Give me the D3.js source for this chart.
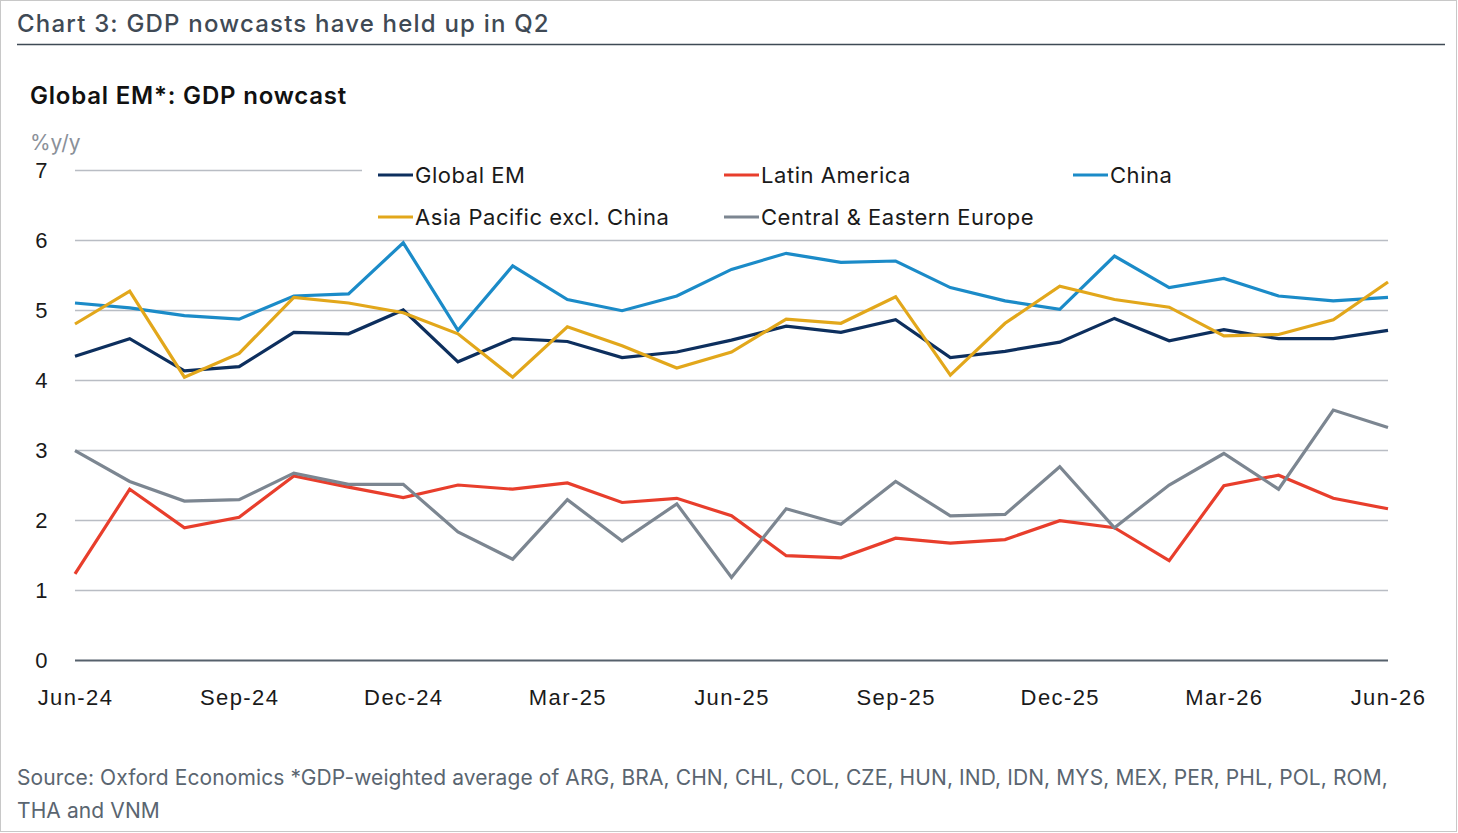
<!DOCTYPE html>
<html lang="en">
<head>
    <meta charset="UTF-8">
    <script src="https://cdnjs.cloudflare.com/ajax/libs/d3/7.8.5/d3.min.js"></script>
    <title>Chart 3: GDP nowcasts have held up in Q2</title>
    <style>
        html, body {
            margin: 0;
            padding: 0;
            background: #ffffff;
        }

        svg {
            display: block;
            font-family: "Inter", "Noto Sans", sans-serif;
        }

        .chart-title {
            fill: #3f4a55;
            font-size: 24px;
            font-weight: 500;
            letter-spacing: 1.2px;
        }

        .chart-subtitle {
            fill: #111111;
            font-size: 24px;
            font-weight: 600;
            letter-spacing: 0.8px;
        }

        .unit-label {
            fill: #8a9099;
            font-size: 21px;
        }

        .text-axis {
            fill: #1a1a1a;
            font-size: 22px;
            letter-spacing: 1.4px;
        }

        .legend-label {
            fill: #1a1a1a;
            font-size: 22px;
            letter-spacing: 0.55px;
        }

        .source {
            fill: #5a6570;
            font-size: 21px;
            letter-spacing: 0.1px;
        }
    </style>
</head>
<body>
    <script>
        const months = [
            'Jun-24', 'Jul-24', 'Aug-24', 'Sep-24', 'Oct-24', 'Nov-24', 'Dec-24',
            'Jan-25', 'Feb-25', 'Mar-25', 'Apr-25', 'May-25', 'Jun-25', 'Jul-25',
            'Aug-25', 'Sep-25', 'Oct-25', 'Nov-25', 'Dec-25', 'Jan-26', 'Feb-26',
            'Mar-26', 'Apr-26', 'May-26', 'Jun-26'
        ];
        const tickLabels = ['Jun-24', 'Sep-24', 'Dec-24', 'Mar-25', 'Jun-25', 'Sep-25', 'Dec-25', 'Mar-26', 'Jun-26'];
        const yTicks = [0, 1, 2, 3, 4, 5, 6, 7];

        const globalEM = [4.34, 4.59, 4.13, 4.19, 4.68, 4.66, 5.00, 4.26, 4.59, 4.55, 4.32, 4.40, 4.57, 4.77, 4.68, 4.86, 4.32, 4.41, 4.54, 4.88, 4.56, 4.72, 4.59, 4.59, 4.71];
        const latinAmerica = [1.23, 2.44, 1.89, 2.04, 2.63, 2.47, 2.32, 2.50, 2.44, 2.53, 2.25, 2.31, 2.06, 1.49, 1.46, 1.74, 1.67, 1.72, 1.99, 1.89, 1.42, 2.49, 2.64, 2.31, 2.16];
        const china = [5.10, 5.03, 4.92, 4.87, 5.20, 5.23, 5.96, 4.71, 5.63, 5.15, 4.99, 5.20, 5.58, 5.81, 5.68, 5.70, 5.32, 5.13, 5.01, 5.77, 5.32, 5.45, 5.20, 5.13, 5.18];
        const asiaPacific = [4.80, 5.27, 4.04, 4.38, 5.18, 5.10, 4.96, 4.66, 4.04, 4.76, 4.49, 4.17, 4.40, 4.87, 4.81, 5.19, 4.07, 4.81, 5.34, 5.15, 5.04, 4.63, 4.65, 4.86, 5.40];
        const centralEurope = [2.99, 2.55, 2.27, 2.29, 2.67, 2.51, 2.51, 1.83, 1.44, 2.29, 1.70, 2.23, 1.18, 2.16, 1.94, 2.55, 2.06, 2.08, 2.76, 1.89, 2.50, 2.95, 2.44, 3.57, 3.32];

        const seriesNames = ['Global EM', 'Latin America', 'China', 'Asia Pacific excl. China', 'Central & Eastern Europe'];
        const seriesColors = ['#0d2f5e', '#e83e2c', '#1b8bc8', '#e2a71b', '#7c8691'];

        const series = [globalEM, latinAmerica, china, asiaPacific, centralEurope].map(function(values, i) {
            return { name: seriesNames[i], color: seriesColors[i], values: values };
        });

        const width = 1458;
        const height = 833;
        const plotLeft = 75;
        const plotRight = 1388;
        const plotTop = 170;
        const plotBottom = 660;

        const svg = d3.select('body')
            .append('svg')
            .attr('width', width)
            .attr('height', height);

        // рамка вокруг картинки
        svg.append('rect')
            .attr('x', 0.5)
            .attr('y', 0.5)
            .attr('width', width - 2)
            .attr('height', height - 2)
            .attr('fill', '#ffffff')
            .attr('stroke', '#c8c8c8');

        svg.append('text')
            .attr('class', 'chart-title')
            .attr('x', 17)
            .attr('y', 32)
            .text('Chart 3: GDP nowcasts have held up in Q2');

        svg.append('line')
            .attr('x1', 17)
            .attr('x2', 1445)
            .attr('y1', 44.5)
            .attr('y2', 44.5)
            .attr('stroke', '#3f4a55')
            .attr('stroke-width', 1.5);

        svg.append('text')
            .attr('class', 'chart-subtitle')
            .attr('x', 30)
            .attr('y', 104)
            .text('Global EM*: GDP nowcast');

        svg.append('text')
            .attr('class', 'unit-label')
            .attr('x', 30)
            .attr('y', 150)
            .text('%y/y');

        const x = d3.scalePoint()
            .domain(months)
            .range([plotLeft, plotRight]);

        const y = d3.scaleLinear()
            .domain([0, 7])
            .range([plotBottom, plotTop]);

        // сетка
        const yAxis = d3.axisLeft(y)
            .tickValues(yTicks)
            .tickSize(-(plotRight - plotLeft))
            .tickPadding(26)
            .tickFormat(d3.format('d'));

        const yAxisG = svg.append('g')
            .attr('class', 'axis axis--y')
            .attr('transform', 'translate(' + plotLeft + ',0)')
            .call(yAxis);

        yAxisG.select('.domain').remove();
        yAxisG.selectAll('line')
            .attr('stroke', function(d) { return d === 0 ? '#56616c' : '#b9bdc4'; })
            .attr('stroke-width', function(d) { return d === 0 ? 2 : 1.5; });
        yAxisG.selectAll('text')
            .attr('class', 'text-axis')
            .attr('dy', '0.35em');

        const xAxis = d3.axisBottom(x)
            .tickValues(tickLabels)
            .tickSize(0)
            .tickPadding(29);

        const xAxisG = svg.append('g')
            .attr('class', 'axis axis--x')
            .attr('transform', 'translate(0,' + plotBottom + ')')
            .call(xAxis);

        xAxisG.select('.domain').remove();
        xAxisG.selectAll('text')
            .attr('class', 'text-axis')
            .attr('dy', '0.71em');

        // линии
        const line = d3.line()
            .x(function(d, i) { return x(months[i]); })
            .y(function(d) { return y(d); });

        svg.append('g')
            .attr('class', 'lines')
            .selectAll('path')
            .data(series)
            .enter()
            .append('path')
            .attr('d', function(d) { return line(d.values); })
            .attr('fill', 'none')
            .attr('stroke', function(d) { return d.color; })
            .attr('stroke-width', 3.2)
            .attr('stroke-linejoin', 'miter');

        // легенда на белой подложке
        const legendCols = [378, 724, 1073];
        const legendRows = [175, 217];

        svg.append('rect')
            .attr('x', 362)
            .attr('y', 150)
            .attr('width', plotRight - 362 + 2)
            .attr('height', 86)
            .attr('fill', '#ffffff');

        const legend = svg.append('g')
            .attr('class', 'legend')
            .selectAll('g')
            .data(series)
            .enter()
            .append('g')
            .attr('transform', function(d, i) {
                return 'translate(' + legendCols[i % 3] + ',' + legendRows[Math.floor(i / 3)] + ')';
            });

        legend.append('line')
            .attr('x1', 0)
            .attr('x2', 35)
            .attr('stroke', function(d) { return d.color; })
            .attr('stroke-width', 3.2);

        legend.append('text')
            .attr('class', 'legend-label')
            .attr('x', 37)
            .attr('dy', '0.35em')
            .text(function(d) { return d.name; });

        const source = svg.append('text')
            .attr('class', 'source');

        source.append('tspan')
            .attr('x', 17)
            .attr('y', 785)
            .text('Source: Oxford Economics *GDP-weighted average of ARG, BRA, CHN, CHL, COL, CZE, HUN, IND, IDN, MYS, MEX, PER, PHL, POL, ROM,');

        source.append('tspan')
            .attr('x', 17)
            .attr('y', 818)
            .text('THA and VNM');
    </script>
</body>
</html>
